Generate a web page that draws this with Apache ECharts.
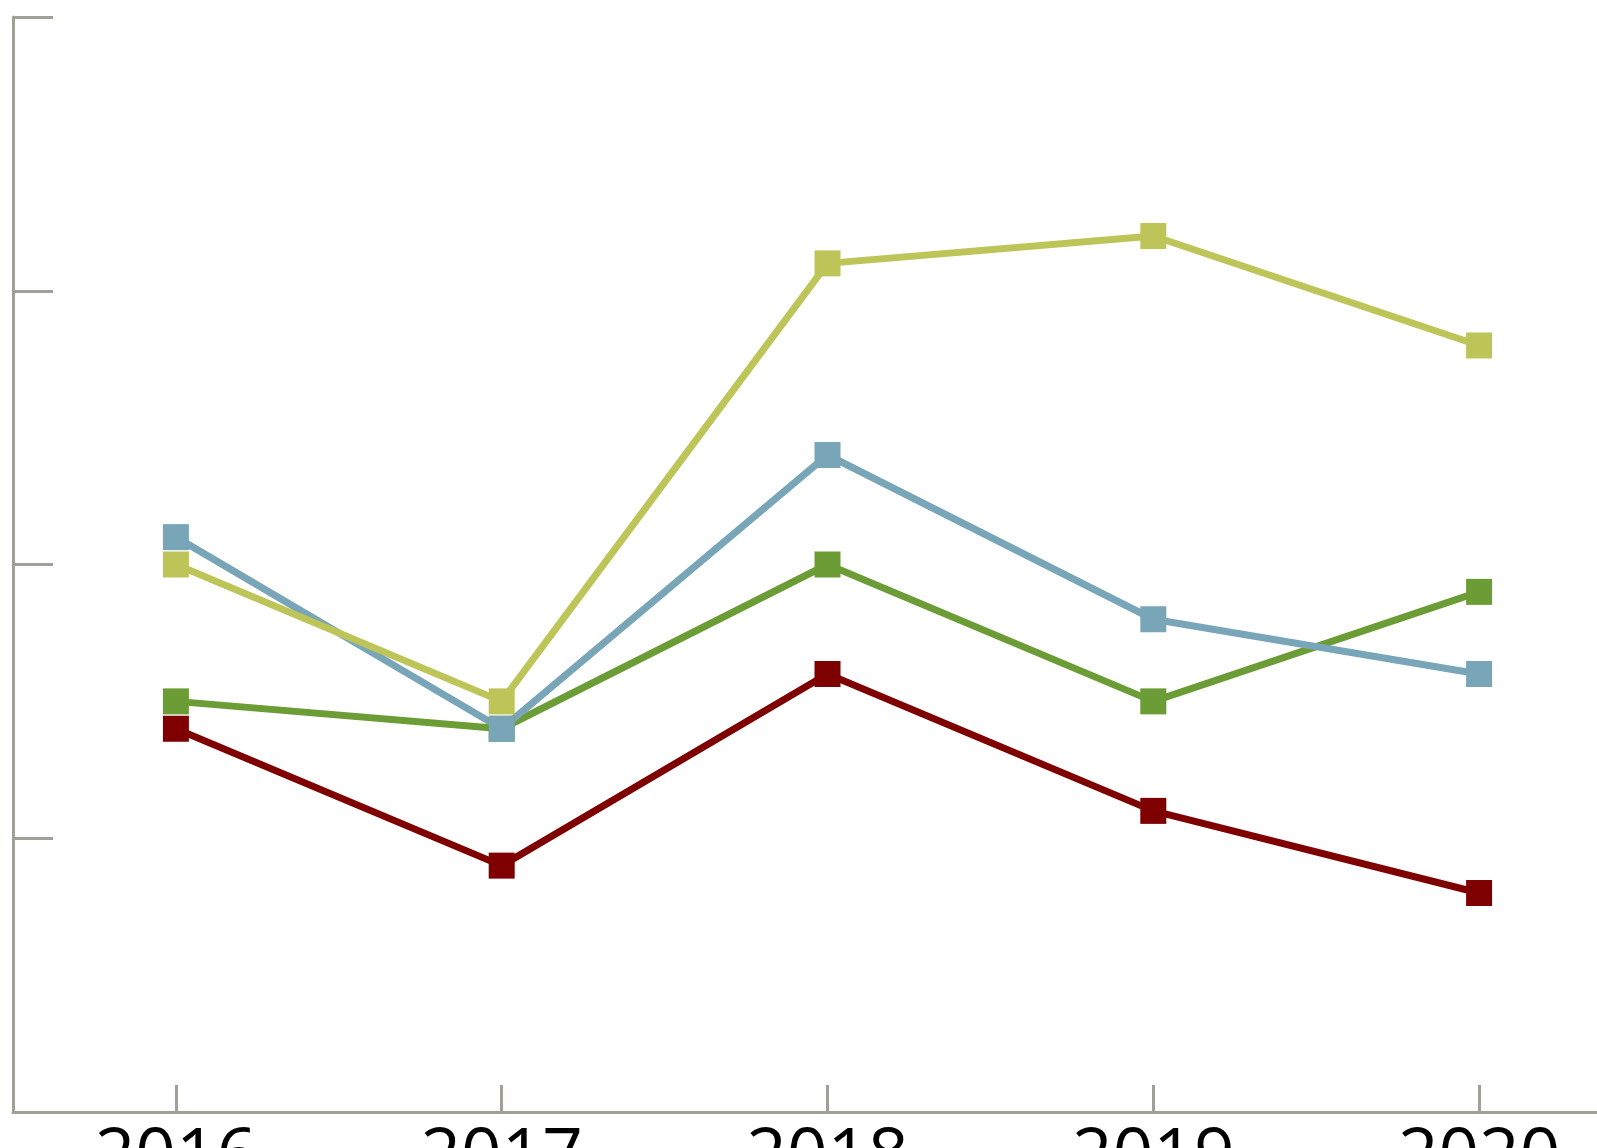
<!DOCTYPE html>
<html>
<head>
<meta charset="utf-8">
<script src="https://cdn.jsdelivr.net/npm/echarts@6/dist/echarts.min.js"></script>
<style>
html,body{margin:0;padding:0;background:#fff;overflow:hidden;}
#chart{width:1597px;height:1148px;}
</style>
</head>
<body>
<div id="chart"></div>
<script>
const categories = ['2016', '2017', '2018', '2019', '2020'];
const yTicks = [0, 1, 2, 3, 4];
const seriesRed = [1.4, 0.9, 1.6, 1.1, 0.8];
const seriesGreen = [1.5, 1.4, 2.0, 1.5, 1.9];
const seriesBlue = [2.1, 1.4, 2.4, 1.8, 1.6];
const seriesYellow = [2.0, 1.5, 3.1, 3.2, 2.8];

const colors = {
  red: '#7f0000',
  green: '#6b9c35',
  blue: '#78a5b7',
  yellow: '#bec558'
};
const axisColor = '#a0a098';

function lineSeries(name, data, color) {
  return {
    name: name, type: 'line', data: data,
    showSymbol: false, symbol: 'none',
    lineStyle: {color: color, width: 7},
    itemStyle: {color: color},
    silent: true, animation: false, z: 2
  };
}
function markerSeries(name, data, color) {
  return {
    name: name, type: 'scatter', data: data,
    symbol: 'rect', symbolSize: 26,
    itemStyle: {color: color, opacity: 1},
    silent: true, animation: false, z: 3
  };
}

const chart = echarts.init(document.getElementById('chart'), null, {renderer: 'canvas'});
chart.setOption({
  backgroundColor: '#ffffff',
  animation: false,
  grid: {left: 13, top: 17, width: 1629, height: 1095, containLabel: false, outerBoundsMode: 'none'},
  xAxis: {
    type: 'category',
    data: categories,
    boundaryGap: true,
    axisLine: {show: true, lineStyle: {color: axisColor, width: 3}},
    axisTick: {show: true, inside: true, length: 27, alignWithLabel: true, lineStyle: {color: axisColor, width: 3}},
    axisLabel: {show: true, color: '#000000', fontSize: 71, fontFamily: 'Open Sans', margin: 11},
    splitLine: {show: false}
  },
  yAxis: {
    type: 'value',
    min: yTicks[0], max: yTicks[yTicks.length - 1], interval: 1,
    axisLine: {show: true, lineStyle: {color: axisColor, width: 3}},
    axisTick: {show: true, inside: true, length: 40, lineStyle: {color: axisColor, width: 3}},
    axisLabel: {show: false},
    splitLine: {show: false}
  },
  series: [
    lineSeries('Red', seriesRed, colors.red),
    lineSeries('Green', seriesGreen, colors.green),
    lineSeries('Blue', seriesBlue, colors.blue),
    lineSeries('Yellow', seriesYellow, colors.yellow),
    markerSeries('Red', seriesRed, colors.red),
    markerSeries('Green', seriesGreen, colors.green),
    markerSeries('Yellow', seriesYellow, colors.yellow),
    markerSeries('Blue', seriesBlue, colors.blue)
  ]
});
</script>
</body>
</html>
